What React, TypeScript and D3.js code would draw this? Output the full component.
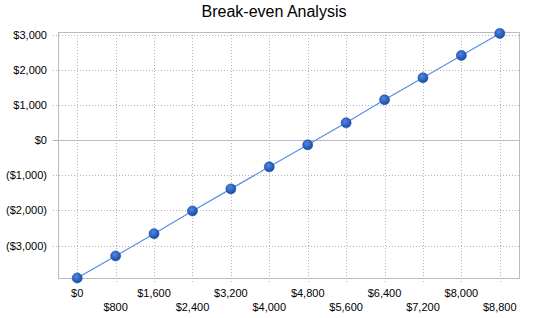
import { useRef, useEffect } from "react";
import * as d3 from 'd3';

const salesLabels = ["$0", "$800", "$1,600", "$2,400", "$3,200", "$4,000", "$4,800", "$5,600", "$6,400", "$7,200", "$8,000", "$8,800"];
const profitValues = [-3923, -3296, -2661, -2014, -1387, -760, -134, 493, 1148, 1775, 2410, 3037];
const yTicks = [-3000, -2000, -1000, 0, 1000, 2000, 3000];

const WIDTH = 550;
const HEIGHT = 318;
const margin = { top: 32, right: 31, bottom: 40, left: 58 };

function formatMoney(v: number) {
    const s = '$' + d3.format(',')(Math.abs(v));
    return v < 0 ? `(${s})` : s;
}

function BreakEvenChart() {
    const ref = useRef<SVGSVGElement>(null);

    useEffect(() => {
        const svg = d3.select(ref.current);
        const w = WIDTH - margin.left - margin.right;
        const h = HEIGHT - margin.top - margin.bottom;
        const font = 'Liberation Sans, Arial, sans-serif';

        //title
        svg.append('text')
            .attr('x', WIDTH / 2 - 1)
            .attr('y', 17)
            .attr('text-anchor', 'middle')
            .attr('font-family', font)
            .attr('font-size', 16)
            .attr('fill', '#000')
            .text('Break-even Analysis');

        const g = svg.append('g')
            .attr('transform', `translate(${margin.left},${margin.top})`);

        const x = d3.scalePoint<string>()
            .domain(salesLabels)
            .range([0, w])
            .padding(0.5);

        const y = d3.scaleLinear()
            .domain([-3923, 3077])
            .range([h, 0]);

        // horizontal grid + tick stubs
        g.selectAll('line.hgrid')
            .data(yTicks)
            .join('line')
            .attr('class', 'hgrid')
            .attr('x1', -5)
            .attr('x2', w)
            .attr('y1', d => Math.round(y(d)) + 0.5)
            .attr('y2', d => Math.round(y(d)) + 0.5)
            .attr('stroke', '#b4b4b4')
            .attr('stroke-dasharray', d => d === 0 ? null : '1,2')
            .attr('shape-rendering', 'crispEdges');

        // vertical grid + tick stubs
        g.selectAll('line.vgrid')
            .data(salesLabels)
            .join('line')
            .attr('class', 'vgrid')
            .attr('x1', d => Math.round(x(d)!) + 0.5)
            .attr('x2', d => Math.round(x(d)!) + 0.5)
            .attr('y1', 0)
            .attr('y2', h + 6)
            .attr('stroke', '#b4b4b4')
            .attr('stroke-dasharray', '1,2')
            .attr('shape-rendering', 'crispEdges');

        // zero line solid
        g.append('line')
            .attr('x1', 0)
            .attr('x2', w)
            .attr('y1', Math.round(y(0)) + 0.5)
            .attr('y2', Math.round(y(0)) + 0.5)
            .attr('stroke', '#b8bcc0')
            .attr('stroke-width', 1);

        // plot border
        g.append('rect')
            .attr('x', 0.5)
            .attr('y', 0.5)
            .attr('width', w)
            .attr('height', h)
            .attr('fill', 'none')
            .attr('stroke', '#b8bcc0')
            .attr('shape-rendering', 'crispEdges');

        // y labels
        g.selectAll('text.ylab')
            .data(yTicks)
            .join('text')
            .attr('class', 'ylab')
            .attr('x', -11)
            .attr('y', d => y(d) + 4)
            .attr('text-anchor', 'end')
            .attr('font-family', font)
            .attr('font-size', 11)
            .attr('fill', '#000')
            .text(d => formatMoney(d));

        // x labels, staggered
        g.selectAll('text.xlab')
            .data(salesLabels)
            .join('text')
            .attr('class', 'xlab')
            .attr('x', d => x(d)!)
            .attr('y', (d, i) => h + (i % 2 === 0 ? 19 : 33))
            .attr('text-anchor', 'middle')
            .attr('font-family', font)
            .attr('font-size', 11)
            .attr('fill', '#000')
            .text(d => d);

        // marker gradient
        const grad = svg.append('defs').append('radialGradient')
            .attr('id', 'dotGrad')
            .attr('cx', '40%').attr('cy', '35%').attr('r', '65%');
        grad.append('stop').attr('offset', '0%').attr('stop-color', '#4f86e6');
        grad.append('stop').attr('offset', '100%').attr('stop-color', '#1a4ca8');

        const line = d3.line<number>()
            .x((d, i) => x(salesLabels[i])!)
            .y(d => y(d));

        g.append('path')
            .datum(profitValues)
            .attr('d', line)
            .attr('fill', 'none')
            .attr('stroke', '#5b8de0')
            .attr('stroke-width', 1.2);

        g.selectAll('circle.dot')
            .data(profitValues)
            .join('circle')
            .attr('class', 'dot')
            .attr('cx', (d, i) => x(salesLabels[i])!)
            .attr('cy', d => y(d))
            .attr('r', 5)
            .attr('fill', 'url(#dotGrad)')
            .attr('stroke', '#1a4a9e')
            .attr('stroke-width', 0.6);

        return () => {
            svg.selectAll('*').remove();
        }
    }, []);

    return (
        <svg ref={ref} width={WIDTH} height={HEIGHT} style={{ display: 'block', background: '#fff' }}>
        </svg>
    )
}

export default function App() {
    return (
        <div style={{ position: 'absolute', left: 0, top: 0 }}>
            <BreakEvenChart />
        </div>
    )
}
